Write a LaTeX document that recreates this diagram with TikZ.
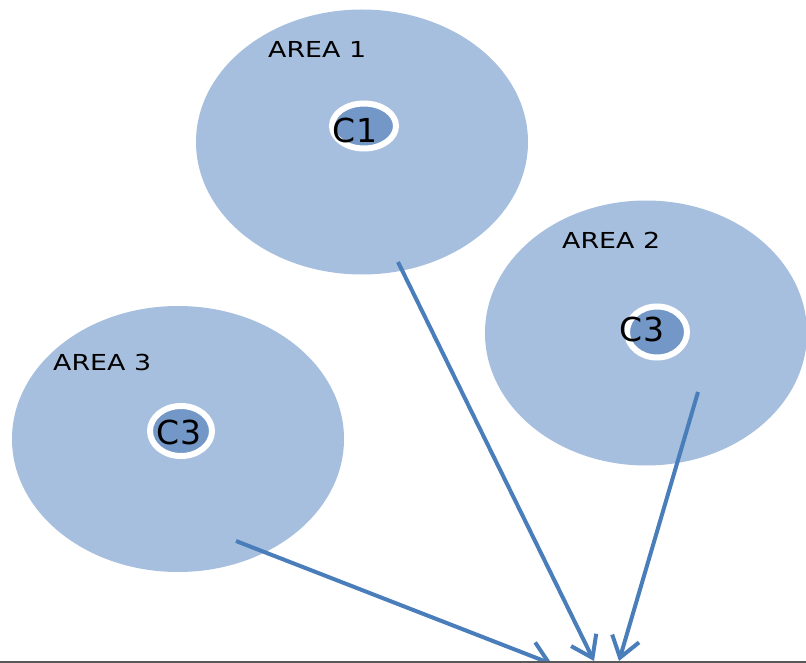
\documentclass[tikz,border=0pt]{standalone}
\usepackage{fontspec}
\setmainfont{DejaVu Sans}
\usetikzlibrary{shapes.geometric,arrows.meta}
\definecolor{areafill}{HTML}{A7BFDE}
\definecolor{corefill}{HTML}{7398C8}
\definecolor{arrowblue}{HTML}{4A7EBB}
\definecolor{basegray}{HTML}{595959}
\tikzset{
  area/.style={ellipse, fill=areafill, inner sep=0pt},
  core/.style={ellipse, fill=corefill, draw=white, line width=6pt, inner sep=0pt},
  arealabel/.style={anchor=base west, inner sep=0pt, font=\fontsize{22}{22}\selectfont},
  corelabel/.style={inner sep=0pt, font=\fontsize{33}{33}\selectfont},
  flow/.style={draw=arrowblue, line width=4pt, -{Straight Barb[length=20pt,width=28pt,line width=4pt]}}
}
\newcommand{\widetext}[1]{\scalebox{1.22}[1]{#1}}
\begin{document}
\begin{tikzpicture}[x=1pt,y=-1pt]
\useasboundingbox (0,0) rectangle (806,663);
\fill[white] (0,0) rectangle (806,663);
% areas
\node[area, minimum width=332pt, minimum height=265pt] (a1) at (362,142) {};
\node[area, minimum width=322pt, minimum height=265pt] (a2) at (646,333) {};
\node[area, minimum width=332pt, minimum height=266pt] (a3) at (178,439) {};
% cores
\node[core, minimum width=64pt, minimum height=45pt] (c1) at (364,126) {};
\node[core, minimum width=60pt, minimum height=51pt] (c2) at (657,332) {};
\node[core, minimum width=62pt, minimum height=50pt] (c3) at (181,431) {};
% labels
\node[arealabel] (l1) at (268,58) {\widetext{AREA 1}};
\node[arealabel] (l2) at (562,249) {\widetext{AREA 2}};
\node[arealabel] (l3) at (53,370) {\widetext{AREA 3}};
\node[corelabel] (t1) at (355,130) {C1};
\node[corelabel] (t2) at (642,329) {C3};
\node[corelabel] (t3) at (179,432) {C3};
% connectors
\coordinate (s1) at (398,262);
\coordinate (s2) at (698,392);
\coordinate (s3) at (236,541);
\coordinate (e1) at (594,661);
\coordinate (e2) at (619,661);
\coordinate (e3) at (552,664);
\draw[flow] (s1) -- (e1);
\draw[flow] (s2) -- (e2);
\draw[flow] (s3) -- (e3);
% base line
\coordinate (b0) at (0,661.8);
\coordinate (b1) at (806,661.8);
\draw[draw=basegray, line width=2.4pt] (b0) -- (b1);
\end{tikzpicture}
\end{document}
